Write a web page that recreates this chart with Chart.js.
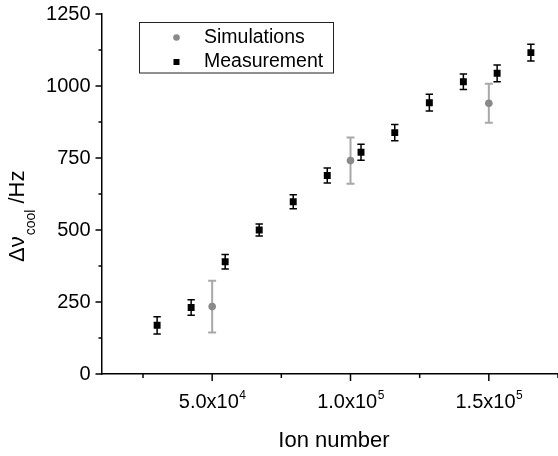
<!DOCTYPE html>
<html>
<head>
<meta charset="utf-8">
<script src="https://cdn.jsdelivr.net/npm/chart.js@4.4.0/dist/chart.umd.min.js"></script>
<style>
html,body{margin:0;padding:0;background:#fff;}
canvas{display:block;}
</style>
</head>
<body>
<canvas id="c" width="558" height="456"></canvas>
<script>
// ---- data ----
const simIons   = [50000, 100000, 150000];
const simFreq   = [234, 741, 940];
const simErr    = [90, 80, 68];

const measIons  = [30100, 42400, 54700, 67000, 79300, 91600, 103800, 116000, 128500, 140800, 153000, 165200];
const measFreq  = [169, 231, 390, 500, 598, 689, 770, 838, 942, 1015, 1044, 1116];
const measErr   = [30, 27, 25, 21, 24, 26, 28, 28, 29, 27, 29, 29];

const xMajorTicks = [50000, 100000, 150000];
const xMajorLabels = [["5.0x10", "4"], ["1.0x10", "5"], ["1.5x10", "5"]];
const xMinorTicks = [25000, 75000, 125000, 175000];
const yMajorTicks = [0, 250, 500, 750, 1000, 1250];
const yMinorTicks = [125, 375, 625, 875, 1125];

const seriesNames = ["Simulations", "Measurement"];
const xTitle = "Ion number";

const FONT = "Arial, 'Liberation Sans', sans-serif";

function pts(xs, ys) { return xs.map((x, i) => ({x: x, y: ys[i]})); }

const extras = {
  id: 'extras',
  beforeDatasetsDraw(chart) {
    const ctx = chart.ctx, xs = chart.scales.x, ys = chart.scales.y;
    chart.data.datasets.forEach(ds => {
      ctx.save();
      ctx.strokeStyle = ds.errColor;
      ctx.lineWidth = ds.errWidth;
      ds.data.forEach((p, i) => {
        const e = ds.errors[i];
        const px = xs.getPixelForValue(p.x);
        const y1 = ys.getPixelForValue(p.y + e), y0 = ys.getPixelForValue(p.y - e);
        ctx.beginPath();
        ctx.moveTo(px, y1); ctx.lineTo(px, y0);
        ctx.moveTo(px - ds.capHalf, y1); ctx.lineTo(px + ds.capHalf, y1);
        ctx.moveTo(px - ds.capHalf, y0); ctx.lineTo(px + ds.capHalf, y0);
        ctx.stroke();
      });
      ctx.restore();
    });
  },
  afterDraw(chart) {
    const ctx = chart.ctx, xs = chart.scales.x, ys = chart.scales.y;
    const area = chart.chartArea;
    ctx.save();
    ctx.strokeStyle = '#000';
    ctx.fillStyle = '#000';
    ctx.lineWidth = 1.5;
    yMajorTicks.forEach(v => {
      const py = ys.getPixelForValue(v);
      ctx.beginPath(); ctx.moveTo(area.left, py); ctx.lineTo(area.left - 6, py); ctx.stroke();
    });
    yMinorTicks.forEach(v => {
      const py = ys.getPixelForValue(v);
      ctx.beginPath(); ctx.moveTo(area.left, py); ctx.lineTo(area.left - 3, py); ctx.stroke();
    });
    ctx.font = '20px ' + FONT;
    ctx.textAlign = 'right';
    ctx.textBaseline = 'middle';
    yMajorTicks.forEach(v => {
      ctx.fillText(String(v), area.left - 11, ys.getPixelForValue(v));
    });
    xMajorTicks.forEach(v => {
      const px = xs.getPixelForValue(v);
      ctx.beginPath(); ctx.moveTo(px, area.bottom); ctx.lineTo(px, area.bottom + 7); ctx.stroke();
    });
    xMinorTicks.forEach(v => {
      const px = xs.getPixelForValue(v);
      ctx.beginPath(); ctx.moveTo(px, area.bottom); ctx.lineTo(px, area.bottom + 4); ctx.stroke();
    });
    ctx.textAlign = 'left';
    ctx.textBaseline = 'alphabetic';
    xMajorTicks.forEach((v, i) => {
      const px = xs.getPixelForValue(v);
      const [base, sup] = xMajorLabels[i];
      ctx.font = '20px ' + FONT;
      const wb = ctx.measureText(base).width;
      ctx.font = '12px ' + FONT;
      const ws = ctx.measureText(sup).width;
      const x0 = px - (wb + ws) / 2;
      ctx.font = '20px ' + FONT;
      ctx.fillText(base, x0, area.bottom + 34);
      ctx.font = '12px ' + FONT;
      ctx.fillText(sup, x0 + wb + 0.5, area.bottom + 25);
    });
    ctx.font = '22px ' + FONT;
    ctx.textAlign = 'center';
    ctx.fillText(xTitle, 334, 447);
    ctx.save();
    ctx.translate(23.5, 262);
    ctx.rotate(-Math.PI / 2);
    ctx.textAlign = 'left';
    ctx.font = '22px ' + FONT;
    const main = '\u0394\u03bd';
    ctx.fillText(main, 0, 0);
    let w = ctx.measureText(main).width;
    ctx.font = '14px ' + FONT;
    ctx.fillText('cool', w + 1, 11);
    w += 1 + ctx.measureText('cool').width;
    ctx.font = '22px ' + FONT;
    ctx.fillText(' /Hz', w, 0);
    ctx.restore();
    ctx.lineWidth = 1;
    ctx.strokeStyle = '#222';
    ctx.strokeRect(139.5, 22.5, 194, 50.5);
    const rows = [37.5, 62];
    chart.data.datasets.forEach((ds, i) => {
      const cy = rows[i];
      ctx.fillStyle = ds.backgroundColor;
      if (ds.pointStyle === 'circle') {
        ctx.beginPath(); ctx.arc(176.5, cy, 3.3, 0, Math.PI * 2); ctx.fill();
      } else {
        ctx.fillRect(173.5, cy - 3, 6, 6);
      }
      ctx.fillStyle = '#000';
      ctx.font = '19.5px ' + FONT;
      ctx.textAlign = 'left';
      ctx.textBaseline = 'middle';
      ctx.fillText(ds.label, 204, cy);
    });
    ctx.restore();
  }
};

new Chart(document.getElementById('c'), {
  type: 'scatter',
  data: {
    datasets: [
      {
        label: seriesNames[0],
        data: pts(simIons, simFreq),
        errors: simErr,
        pointStyle: 'circle',
        pointRadius: 3.8,
        backgroundColor: '#8a8a8a',
        borderColor: '#8a8a8a',
        borderWidth: 0,
        errColor: '#a8a8a8',
        errWidth: 2,
        capHalf: 4
      },
      {
        label: seriesNames[1],
        data: pts(measIons, measFreq),
        errors: measErr,
        pointStyle: 'rect',
        pointRadius: 4.9,
        backgroundColor: '#000',
        borderColor: '#000',
        borderWidth: 0,
        errColor: '#000',
        errWidth: 1.5,
        capHalf: 3.7
      }
    ]
  },
  options: {
    responsive: false,
    devicePixelRatio: 1,
    animation: false,
    layout: { autoPadding: false, padding: { top: 14, left: 0, right: 0, bottom: 0 } },
    plugins: { legend: { display: false }, tooltip: { enabled: false } },
    scales: {
      x: {
        type: 'linear', min: 10000, max: 175000,
        ticks: { display: false },
        grid: { display: false },
        border: { display: true, color: '#000', width: 1.5 },
        afterFit: s => { s.height = 82; }
      },
      y: {
        type: 'linear', min: 0, max: 1250,
        ticks: { display: false },
        grid: { display: false },
        border: { display: true, color: '#000', width: 1.5 },
        afterFit: s => { s.width = 101.5; }
      }
    }
  },
  plugins: [extras]
});
</script>
</body>
</html>
